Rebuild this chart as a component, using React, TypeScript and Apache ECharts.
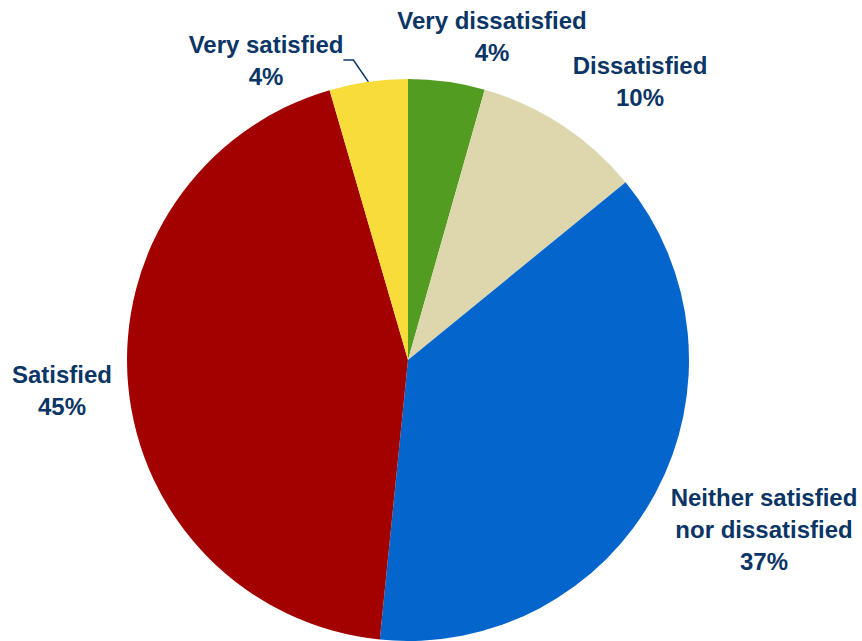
import React, { useEffect, useRef } from "react";
import * as echarts from "echarts";

const categories = [
  "Very dissatisfied",
  "Dissatisfied",
  "Neither satisfied\nnor dissatisfied",
  "Satisfied",
  "Very satisfied",
];
// slice shares
const shares = [4.4, 9.7, 37.5, 43.9, 4.5];
// percentages printed in the labels
const labelPercents = [4, 10, 37, 45, 4];
const colors = ["#539c22", "#ded6ad", "#0466cc", "#a30000", "#f8dc3a"];
const labelCenters: [number, number][] = [
  [492, 36],
  [640, 81],
  [764, 529],
  [62, 390],
  [266, 60],
];

export default function App() {
  const ref = useRef<HTMLDivElement>(null);
  useEffect(() => {
    document.body.style.margin = "0";
    const chart = echarts.init(ref.current!, null, { renderer: "svg" });
    chart.setOption({
      animation: false,
      series: [
        {
          type: "pie",
          center: [408, 360],
          radius: 281,
          startAngle: 90,
          clockwise: true,
          avoidLabelOverlap: false,
          emphasis: { disabled: true },
          data: categories.map((name, i) => ({
            name,
            value: shares[i],
            itemStyle: { color: colors[i] },
            labelLine: { show: i === 4 },
          })),
          label: {
            show: true,
            formatter: (p: any) => `${p.name}\n${labelPercents[p.dataIndex]}%`,
            color: "#0b3565",
            fontFamily: "'Liberation Sans', Arial, sans-serif",
            fontWeight: "bold",
            fontSize: 24,
            lineHeight: 32,
            align: "center",
          },
          labelLine: {
            length: 10,
            length2: 10,
            lineStyle: { color: "#0b3565", width: 1.5 },
          },
          labelLayout: (p: any) => ({
            x: labelCenters[p.dataIndex][0],
            y: labelCenters[p.dataIndex][1],
            align: "center",
            verticalAlign: "middle",
          }),
        },
      ],
    });
    return () => chart.dispose();
  }, []);
  return <div ref={ref} style={{ width: 862, height: 641 }} />;
}
